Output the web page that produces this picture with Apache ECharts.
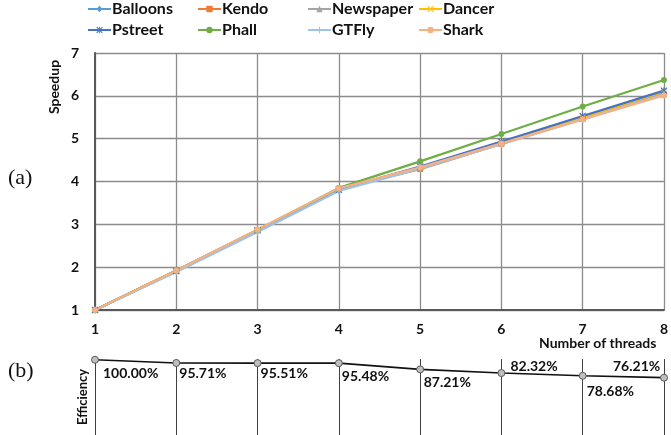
<!DOCTYPE html>
<html>
<head>
<meta charset="utf-8">
<script src="https://cdn.jsdelivr.net/npm/echarts@6/dist/echarts.min.js"></script>
<style>
  html, body { margin: 0; padding: 0; background: #fff; }
  #chart { width: 671px; height: 435px; }
</style>
</head>
<body>
<div id="chart"></div>
<script>
// Thread counts (x axis)
const threads = [1, 2, 3, 4, 5, 6, 7, 8];

// Speedup per sequence
const balloons  = [1, 1.91, 2.84, 3.80, 4.33, 4.91, 5.48, 6.06];
const kendo     = [1, 1.92, 2.87, 3.83, 4.29, 4.88, 5.46, 6.04];
const newspaper = [1, 1.91, 2.86, 3.82, 4.33, 4.91, 5.48, 6.07];
const dancer    = [1, 1.92, 2.87, 3.83, 4.33, 4.92, 5.50, 6.10];
const pstreet   = [1, 1.91, 2.86, 3.81, 4.35, 4.93, 5.53, 6.12];
const phall     = [1, 1.92, 2.87, 3.85, 4.47, 5.11, 5.75, 6.37];
const gtfly     = [1, 1.89, 2.82, 3.78, 4.30, 4.87, 5.45, 6.03];
const shark     = [1, 1.92, 2.88, 3.84, 4.33, 4.89, 5.45, 6.01];

// Average parallel efficiency (%)
const efficiency = [100.00, 95.71, 95.51, 95.48, 87.21, 82.32, 78.68, 76.21];

const FONT = 'Lato';

const xMark = 'path://M0,1.2L1.2,0L5,3.8L8.8,0L10,1.2L6.2,5L10,8.8L8.8,10L5,6.2L1.2,10L0,8.8L3.8,5Z';
const plusMark = 'path://M4.2,0H5.8V4.2H10V5.8H5.8V10H4.2V5.8H0V4.2H4.2Z';
const starMark = 'path://M0,1.2L1.2,0L5,3.8L8.8,0L10,1.2L6.2,5L10,8.8L8.8,10L5,6.2L1.2,10L0,8.8L3.8,5ZM4.3,0H5.7V10H4.3Z';

const seriesDefs = [
  { name: 'Balloons',  data: balloons,  color: '#5B9BD5', symbol: 'diamond',  size: 6 },
  { name: 'Kendo',     data: kendo,     color: '#ED7D31', symbol: 'rect',     size: 6 },
  { name: 'Newspaper', data: newspaper, color: '#A5A5A5', symbol: 'triangle', size: 6 },
  { name: 'Dancer',    data: dancer,    color: '#FFC000', symbol: xMark,      size: 6 },
  { name: 'Pstreet',   data: pstreet,   color: '#4472C4', symbol: starMark,   size: 7 },
  { name: 'Phall',     data: phall,     color: '#70AD47', symbol: 'circle',   size: 6 },
  { name: 'GTFly',     data: gtfly,     color: '#9DC3E6', symbol: plusMark,   size: 7 },
  { name: 'Shark',     data: shark,     color: '#F4B183', symbol: 'circle',   size: 6 }
];

const legendCols = [87, 197, 307, 418];
const legendRows = [1, 22];

const legends = seriesDefs.map((s, i) => ({
  data: [s.name],
  left: legendCols[i % 4],
  top: legendRows[Math.floor(i / 4)],
  padding: 0,
  itemWidth: 23,
  itemHeight: 8,
  itemGap: 0,
  selectedMode: false,
  textStyle: { fontFamily: FONT, fontWeight: 'bold', fontSize: 16, color: '#111', padding: [0, 0, 0, -4] }
}));

const lineSeries = seriesDefs.map(s => ({
  name: s.name,
  type: 'line',
  xAxisIndex: 0,
  yAxisIndex: 0,
  data: threads.map((t, i) => [t, s.data[i]]),
  symbol: s.symbol,
  symbolSize: s.size,
  showAllSymbol: true,
  color: s.color,
  lineStyle: { width: 2.25, color: s.color },
  itemStyle: { color: s.color },
  animation: false
}));

// Per-point label placement for the efficiency row: [dx, dy] from the marker
const effOffsets = [[8, 13.5], [3, 10.5], [3, 10.5], [3, 13], [3.5, 13], [9, -7], [4, 16], [-51, -11.5]];

const effSeries = {
  name: 'Efficiency',
  type: 'line',
  xAxisIndex: 1,
  yAxisIndex: 1,
  data: threads.map((t, i) => ({
    value: [t, efficiency[i]],
    label: {
      show: true,
      position: 'inside',
      align: 'left',
      verticalAlign: 'middle',
      offset: effOffsets[i],
      formatter: efficiency[i].toFixed(2) + '%',
      fontFamily: FONT,
      fontWeight: 'bold',
      fontSize: 14,
      color: '#111'
    }
  })),
  symbol: 'circle',
  symbolSize: 7,
  showAllSymbol: true,
  lineStyle: { color: '#111', width: 1.6 },
  itemStyle: { color: '#BFBFBF', borderColor: '#595959', borderWidth: 1 },
  z: 5,
  animation: false
};

const chart = echarts.init(document.getElementById('chart'), null, { renderer: 'canvas' });

chart.setOption({
  backgroundColor: '#ffffff',
  animation: false,
  legend: legends,
  grid: [
    { left: 95, right: 7, top: 53, bottom: 125, containLabel: false },
    { left: 95, right: 7, top: 359, bottom: 0, containLabel: false }
  ],
  xAxis: [
    {
      type: 'value', gridIndex: 0, min: 1, max: 8, interval: 1,
      axisLine: { show: true, onZero: false, lineStyle: { color: '#595959', width: 2 } },
      axisTick: { show: false },
      axisLabel: { margin: 12, fontFamily: FONT, fontWeight: 'bold', fontSize: 14, color: '#111' },
      splitLine: { show: true, lineStyle: { color: '#8C8C8C', width: 1.3 } }
    },
    {
      type: 'value', gridIndex: 1, min: 1, max: 8, interval: 1,
      axisLine: { show: false },
      axisTick: { show: false },
      axisLabel: { show: false },
      splitLine: { show: true, lineStyle: { color: '#404040', width: 1 } }
    }
  ],
  yAxis: [
    {
      type: 'value', gridIndex: 0, min: 1, max: 7, interval: 1,
      axisLine: { show: true, onZero: false, lineStyle: { color: '#595959', width: 2 } },
      axisTick: { show: false },
      axisLabel: { margin: 16, fontFamily: FONT, fontWeight: 'bold', fontSize: 14, color: '#111' },
      splitLine: { show: true, lineStyle: { color: '#8C8C8C', width: 1.3 } }
    },
    {
      type: 'value', gridIndex: 1, min: 0, max: 101,
      show: false,
      splitLine: { show: false }
    }
  ],
  graphic: [
    {
      type: 'text', left: 666 - 127, top: 336,
      style: { text: 'Number of threads', font: 'bold 14px Lato', fill: '#111' }
    },
    {
      type: 'text', x: 54, y: 87, rotation: Math.PI / 2,
      style: { text: 'Speedup', font: 'bold 14px Lato', fill: '#111', align: 'center', verticalAlign: 'middle' }
    },
    {
      type: 'text', x: 83, y: 397, rotation: Math.PI / 2,
      style: { text: 'Efficiency', font: 'bold 13px Lato', fill: '#111', align: 'center', verticalAlign: 'middle' }
    },
    {
      type: 'text', x: 8, y: 178,
      style: { text: '(a)', font: '22px "Liberation Serif"', fill: '#111', verticalAlign: 'middle' }
    },
    {
      type: 'text', x: 8, y: 371,
      style: { text: '(b)', font: '22px "Liberation Serif"', fill: '#111', verticalAlign: 'middle' }
    }
  ],
  series: lineSeries.concat([effSeries])
});
</script>
</body>
</html>
